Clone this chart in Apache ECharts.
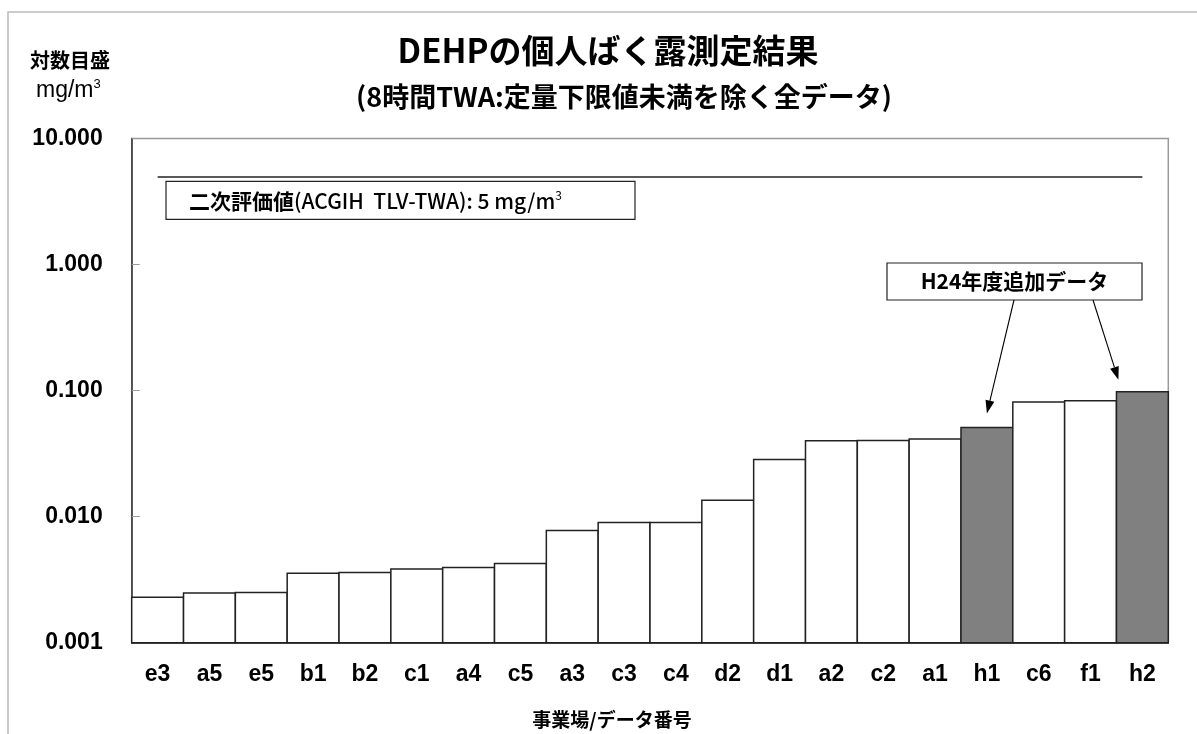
<!DOCTYPE html>
<html>
<head>
<meta charset="utf-8">
<script src="https://cdn.jsdelivr.net/npm/echarts@6/dist/echarts.min.js"></script>
<style>
html,body{margin:0;padding:0;background:#fff;}
#main{width:1197px;height:734px;}
</style>
</head>
<body>
<div id="main"></div>
<script>
const categories = ['e3','a5','e5','b1','b2','c1','a4','c5','a3','c3','c4','d2','d1','a2','c2','a1','h1','c6','f1','h2'];
const values = [0.00229,0.00248,0.00250,0.00356,0.00361,0.00385,0.00395,0.00425,0.00777,0.0090,0.0090,0.0135,0.0284,0.0400,0.0401,0.0414,0.0510,0.0811,0.0830,0.0978];
const highlighted = ['h1','h2'];
const yMin = 0.001, yMax = 10;
const limitValue = 5;
const titleText = 'DEHPの個人ばく露測定結果';
const subtitleText = '(8時間TWA:定量下限値未満を除く全データ)';
const yNameLine1 = '対数目盛';
const yNameUnit = 'mg/m';
const yNameSup = '3';
const xNameText = '事業場/データ番号';
const limitLabelBold = '二次評価値';
const limitLabelRest = '(ACGIH  TLV-TWA): 5 mg/m';
const addedLabel = 'H24年度追加データ';

const JP = '"Noto Sans CJK JP", "Liberation Sans", sans-serif';
const LAT = '"Liberation Sans", "Noto Sans CJK JP", sans-serif';

const chart = echarts.init(document.getElementById('main'), null, {renderer:'canvas'});

const barData = categories.map((c, i) => [i, values[i]]);

const option = {
  backgroundColor: '#ffffff',
  animation: false,
  title: [
    { text: titleText, left: 603, top: 29, textAlign: 'center',
      textStyle: { fontFamily: JP, fontSize: 33, fontWeight: 'bold', color: '#000' } },
    { text: subtitleText, left: 619, top: 78, textAlign: 'center',
      textStyle: { fontFamily: JP, fontSize: 27, fontWeight: 'bold', color: '#000' } }
  ],
  grid: { left: 131.7, right: 28.7, top: 138.5, bottom: 91.3, show: true, borderColor: '#999', borderWidth: 1.5, backgroundColor: 'transparent' },
  xAxis: {
    type: 'category',
    data: categories,
    axisLine: { show: true, lineStyle: { color: '#333', width: 1.5 } },
    axisTick: { show: false },
    axisLabel: { margin: 20, fontFamily: '"Liberation Sans Narrow", "Liberation Sans", sans-serif', fontSize: 23, fontWeight: 'bold', color: '#000' },
    splitLine: { show: false }
  },
  yAxis: {
    type: 'log',
    logBase: 10,
    min: yMin,
    max: yMax,
    axisLine: { show: true, lineStyle: { color: '#333', width: 1.5 } },
    axisTick: { show: true, inside: true, length: 8, lineStyle: { color: '#999', width: 1 } },
    minorTick: { show: false },
    splitLine: { show: false },
    axisLabel: { margin: 29, fontFamily: LAT, fontSize: 23, fontWeight: 'bold', color: '#000',
      formatter: v => Number(v).toFixed(3) }
  },
  series: [{
    type: 'custom',
    data: barData,
    encode: { x: 0, y: 1 },
    z: 2,
    renderItem: function (params, api) {
      const i = api.value(0);
      const v = api.value(1);
      const top = api.coord([i, v]);
      const bot = api.coord([i, yMin]);
      const w = api.size([1, v])[0];
      const cat = categories[i];
      return {
        type: 'rect',
        shape: { x: top[0] - w / 2, y: top[1], width: w, height: bot[1] - top[1] },
        style: { fill: highlighted.includes(cat) ? '#808080' : '#ffffff', stroke: '#222', lineWidth: 1.5 }
      };
    },
    markLine: {
      silent: true,
      symbol: ['none','none'],
      label: { show: false },
      lineStyle: { color: '#222', width: 1.5, type: 'solid' },
      data: [[ { coord: [0, limitValue] }, { coord: [categories.length - 1, limitValue] } ]]
    }
  }]
};
chart.setOption(option);

function arrow(x1, y1, x2, y2) {
  const dx = x2 - x1, dy = y2 - y1;
  const len = Math.sqrt(dx*dx + dy*dy);
  const ux = dx/len, uy = dy/len;
  const hl = 13, hw = 4.5;
  const bx = x2 - ux*hl, by = y2 - uy*hl;
  return [
    { type: 'line', shape: { x1: x1, y1: y1, x2: bx, y2: by }, style: { stroke: '#000', lineWidth: 1.1 }, z: 10 },
    { type: 'polygon', shape: { points: [[x2, y2], [bx - uy*hw, by + ux*hw], [bx + uy*hw, by - ux*hw]] }, style: { fill: '#000' }, z: 10 }
  ];
}

const pH1 = chart.convertToPixel({ xAxisIndex: 0, yAxisIndex: 0 }, [categories.indexOf('h1'), values[categories.indexOf('h1')]]);
const pH2 = chart.convertToPixel({ xAxisIndex: 0, yAxisIndex: 0 }, [categories.indexOf('h2'), values[categories.indexOf('h2')]]);
const pLim = chart.convertToPixel({ xAxisIndex: 0, yAxisIndex: 0 }, [0, limitValue]);

const boxTop = 263, boxBottom = 300, boxLeft = 887, boxRight = 1142;

const graphics = [
  // outer frame
  { type: 'rect', shape: { x: 8, y: 12, width: 1300, height: 800 }, style: { fill: 'none', stroke: '#bbb', lineWidth: 1.5 }, z: 0, silent: true },
  // y-axis name
  { type: 'text', left: 30, top: 50, style: { text: yNameLine1, fontFamily: JP, fontSize: 20, fontWeight: 'bold', fill: '#000' } },
  { type: 'text', left: 36, top: 78,
    style: { text: '{u|' + yNameUnit + '}{s|' + yNameSup + '}',
      rich: { u: { fontFamily: LAT, fontSize: 23, fill: '#000', verticalAlign: 'bottom' },
              s: { fontFamily: LAT, fontSize: 13, fill: '#000', verticalAlign: 'top', padding: [0,0,11,0] } } } },
  // x-axis name
  { type: 'text', x: 612, y: 720, style: { text: xNameText, fontFamily: JP, fontSize: 19, fontWeight: 'bold', fill: '#000', align: 'center', verticalAlign: 'middle' } },
  // limit label box
  { type: 'rect', shape: { x: 166, y: pLim[1] + 5, width: 469, height: 38 }, style: { fill: '#fff', stroke: '#222', lineWidth: 1.2 }, z: 5 },
  { type: 'text', x: 189, y: pLim[1] + 25, z: 6,
    style: { text: '{b|' + limitLabelBold + '}{n|' + limitLabelRest + '}{s|3}', verticalAlign: 'middle',
      rich: { b: { fontFamily: JP, fontSize: 21, fontWeight: 'bold', fill: '#000' },
              n: { fontFamily: JP, fontSize: 21, fontWeight: 500, fill: '#000' },
              s: { fontFamily: JP, fontSize: 12, fill: '#000', padding: [0,0,12,0] } } } },
  // added data box
  { type: 'rect', shape: { x: boxLeft, y: boxTop, width: boxRight - boxLeft, height: boxBottom - boxTop }, style: { fill: '#fff', stroke: '#222', lineWidth: 1.2 }, z: 5 },
  { type: 'text', x: (boxLeft + boxRight) / 2, y: (boxTop + boxBottom) / 2, z: 6,
    style: { text: addedLabel, fontFamily: JP, fontSize: 21, fontWeight: 'bold', fill: '#000', align: 'center', verticalAlign: 'middle' } }
].concat(
  arrow(1014, boxBottom, pH1[0], pH1[1] - 14),
  arrow(1093, boxBottom, pH2[0] - 24, pH2[1] - 12)
);

chart.setOption({ graphic: graphics });
</script>
</body>
</html>
